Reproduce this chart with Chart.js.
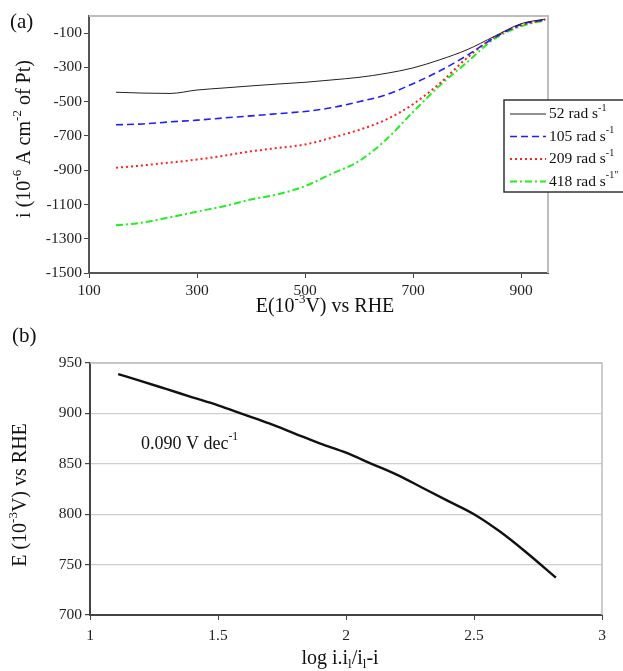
<!DOCTYPE html>
<html>
<head>
<meta charset="utf-8">
<script src="https://cdn.jsdelivr.net/npm/chart.js@4"></script>
<style>
  body { margin: 0; background: #fff; }
  #wrap { position: relative; width: 623px; height: 671px; overflow: hidden; }
  canvas { position: absolute; left: 0; top: 0; }
</style>
</head>
<body>
<div id="wrap">
  <canvas id="chartA" width="623" height="671"></canvas>
  <canvas id="chartB" width="623" height="671"></canvas>
</div>
<script>
// (a) current vs potential at four rotation rates
const potA = [150, 200, 250, 300, 350, 400, 450, 500, 550, 600, 650, 700, 750, 800, 850, 900, 945];
const i52  = [-445, -450, -452, -432, -420, -408, -397, -387, -373, -358, -335, -303, -255, -197, -120, -45, -18];
const i105 = [-635, -630, -618, -608, -595, -583, -570, -557, -535, -500, -460, -395, -320, -230, -128, -50, -20];
const i209 = [-886, -872, -855, -838, -815, -790, -770, -750, -710, -665, -605, -515, -392, -245, -125, -55, -22];
const i418 = [-1222, -1205, -1175, -1142, -1110, -1071, -1040, -993, -920, -847, -722, -560, -405, -270, -135, -60, -25];
const rateLabels = ["52", "105", "209", "418"];
const xTicksA = [100, 300, 500, 700, 900];
const yTicksA = [-1500, -1300, -1100, -900, -700, -500, -300, -100];

// (b) Tafel plot
const logB = [1.11, 1.2, 1.3, 1.4, 1.5, 1.6, 1.7, 1.8, 1.9, 2.0, 2.1, 2.2, 2.3, 2.4, 2.5, 2.6, 2.7, 2.82];
const potB = [939, 932, 924, 916, 908, 899, 890, 880, 870, 861, 850, 839, 826, 813, 800, 783, 763, 737];
const xTicksB = [1, 1.5, 2, 2.5, 3];
const yTicksB = [700, 750, 800, 850, 900, 950];

const serif = "'Liberation Serif', 'DejaVu Serif', serif";

// draw text made of normal / sup / sub parts
function drawRich(ctx, parts, x, y, size, align, rotate) {
  ctx.save();
  ctx.translate(x, y);
  if (rotate) ctx.rotate(rotate);
  ctx.textBaseline = "middle";
  ctx.textAlign = "left";
  ctx.fillStyle = "#111";
  let total = 0;
  parts.forEach(p => {
    const s = p[1] ? size * 0.65 : size;
    ctx.font = s + "px " + serif;
    total += ctx.measureText(p[0]).width;
  });
  let cx = align === "center" ? -total / 2 : 0;
  parts.forEach(p => {
    const s = p[1] ? size * 0.65 : size;
    let dy = 0;
    if (p[1] === "sup") dy = -size * 0.38;
    if (p[1] === "sub") dy = size * 0.28;
    ctx.font = s + "px " + serif;
    ctx.fillText(p[0], cx, dy);
    cx += ctx.measureText(p[0]).width;
  });
  ctx.restore();
}

function textPlugin(items) {
  return {
    id: "texts",
    afterDraw(chart) {
      const ctx = chart.ctx;
      items.forEach(t => drawRich(ctx, t.parts, t.x, t.y, t.size, t.align, t.rotate));
    }
  };
}

const frameA = {
  id: "frameA",
  beforeDatasetsDraw(chart) {
    const { ctx, chartArea: a } = chart;
    ctx.save();
    ctx.strokeStyle = "#bdbdbd";
    ctx.lineWidth = 2;
    ctx.beginPath();
    ctx.moveTo(a.left, a.top);
    ctx.lineTo(a.right, a.top);
    ctx.lineTo(a.right, a.bottom);
    ctx.stroke();
    ctx.restore();
  },
  afterDraw(chart) {
    // legend box, partly cut by the page edge like the original
    const ctx = chart.ctx;
    ctx.save();
    ctx.fillStyle = "#fff";
    ctx.fillRect(504, 100, 130, 92);
    ctx.strokeStyle = "#333";
    ctx.lineWidth = 1.5;
    ctx.strokeRect(504, 100, 130, 92);
    chart.data.datasets.forEach((ds, k) => {
      const y = 114 + k * 22.5;
      ctx.strokeStyle = ds.borderColor;
      ctx.lineWidth = ds.borderWidth;
      ctx.setLineDash(ds.borderDash || []);
      ctx.beginPath();
      ctx.moveTo(510, y);
      ctx.lineTo(546, y);
      ctx.stroke();
      ctx.setLineDash([]);
      const sup = k === 3 ? "-1\"" : "-1";
      drawRich(ctx, [[rateLabels[k] + " rad s", ""], [sup, "sup"]], 549, y, 15.5, "left");
    });
    ctx.restore();
  }
};

const frameB = {
  id: "frameB",
  beforeDatasetsDraw(chart) {
    const { ctx, chartArea: a } = chart;
    ctx.save();
    ctx.strokeStyle = "#bdbdbd";
    ctx.lineWidth = 1.5;
    ctx.beginPath();
    ctx.moveTo(a.left, a.top);
    ctx.lineTo(a.right, a.top);
    ctx.lineTo(a.right, a.bottom);
    ctx.stroke();
    ctx.restore();
  }
};

function pts(xs, ys) {
  return xs.map((x, k) => ({ x: x, y: ys[k] }));
}

const tickFont = { family: serif, size: 15.5 };

new Chart(document.getElementById("chartA"), {
  type: "line",
  data: {
    datasets: [
      { data: pts(potA, i52), borderColor: "#222", borderWidth: 1, borderDash: [] },
      { data: pts(potA, i105), borderColor: "#1f1fff", borderWidth: 1.6, borderDash: [7, 4] },
      { data: pts(potA, i209), borderColor: "#ff2020", borderWidth: 2, borderDash: [2, 3] },
      { data: pts(potA, i418), borderColor: "#22ee22", borderWidth: 2, borderDash: [7, 3, 2, 3] }
    ]
  },
  options: {
    responsive: false,
    animation: false,
    layout: { padding: { left: 0, top: 16, right: 75, bottom: 368 } },
    plugins: { legend: { display: false }, tooltip: { enabled: false } },
    elements: { point: { radius: 0 }, line: { tension: 0.35, cubicInterpolationMode: "monotone" } },
    scales: {
      x: {
        type: "linear", min: 100, max: 950,
        afterBuildTicks: s => { s.ticks = xTicksA.map(v => ({ value: v })); },
        afterFit: s => { s.height = 30; },
        grid: { drawOnChartArea: false, tickLength: 5, tickColor: "#444" },
        border: { color: "#555", width: 2 },
        ticks: { color: "#222", font: tickFont, padding: 4, maxRotation: 0, callback: v => String(v) }
      },
      y: {
        min: -1500, max: 0,
        afterBuildTicks: s => { s.ticks = yTicksA.map(v => ({ value: v })); },
        afterFit: s => { s.width = 89; },
        grid: { drawOnChartArea: false, tickLength: 5, tickColor: "#444" },
        border: { color: "#555", width: 2 },
        ticks: { color: "#222", font: tickFont, padding: 2, callback: v => String(v) }
      }
    }
  },
  plugins: [frameA, textPlugin([
    { parts: [["(a)", ""]], x: 10, y: 22, size: 21, align: "left" },
    { parts: [["i (10", ""], ["-6", "sup"], [" A cm", ""], ["-2", "sup"], [" of Pt)", ""]], x: 25, y: 139, size: 20, align: "center", rotate: -Math.PI / 2 },
    { parts: [["E(10", ""], ["-3", "sup"], ["V) vs RHE", ""]], x: 325, y: 307, size: 20, align: "center" }
  ])]
});

new Chart(document.getElementById("chartB"), {
  type: "line",
  data: {
    datasets: [
      { data: pts(logB, potB), borderColor: "#111", borderWidth: 2.4, tension: 0.3, cubicInterpolationMode: "monotone" }
    ]
  },
  options: {
    responsive: false,
    animation: false,
    layout: { padding: { left: 0, top: 363, right: 21, bottom: 26 } },
    plugins: { legend: { display: false }, tooltip: { enabled: false } },
    elements: { point: { radius: 0 } },
    scales: {
      x: {
        type: "linear", min: 1, max: 3,
        afterBuildTicks: s => { s.ticks = xTicksB.map(v => ({ value: v })); },
        afterFit: s => { s.height = 30; },
        grid: { drawOnChartArea: false, tickLength: 5, tickColor: "#444" },
        border: { color: "#444", width: 2 },
        ticks: { color: "#222", font: tickFont, padding: 7, maxRotation: 0, callback: v => String(v) }
      },
      y: {
        min: 700, max: 950,
        afterBuildTicks: s => { s.ticks = yTicksB.map(v => ({ value: v })); },
        afterFit: s => { s.width = 90; },
        grid: { color: "#cfcfcf", lineWidth: 1.2, tickLength: 5, tickColor: "#444" },
        border: { color: "#444", width: 2 },
        ticks: { color: "#222", font: tickFont, padding: 3, callback: v => String(v) }
      }
    }
  },
  plugins: [frameB, textPlugin([
    { parts: [["(b)", ""]], x: 12, y: 336, size: 21, align: "left" },
    { parts: [["E (10", ""], ["-3", "sup"], ["V) vs RHE", ""]], x: 21, y: 495, size: 20, align: "center", rotate: -Math.PI / 2 },
    { parts: [["0.090 V dec", ""], ["-1", "sup"]], x: 141, y: 444, size: 18, align: "left" },
    { parts: [["log i.i", ""], ["l", "sub"], ["/i", ""], ["l", "sub"], ["-i", ""]], x: 340, y: 659, size: 20, align: "center" }
  ])]
});
</script>
</body>
</html>
